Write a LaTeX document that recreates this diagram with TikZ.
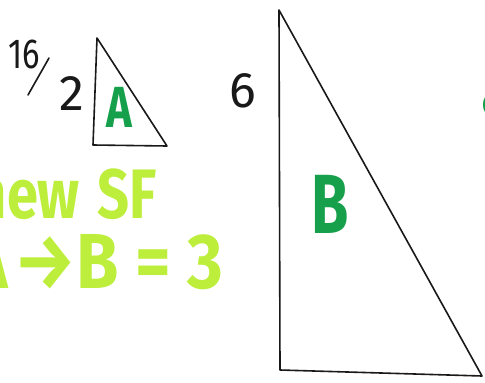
\documentclass[tikz,border=0pt]{standalone}
\usepackage{fontspec}
\setmainfont{Fira Sans}
\usepackage{tikz}
\usetikzlibrary{positioning, calc}
\definecolor{PenGreen}{RGB}{22, 160, 75}
\definecolor{HiLime}{RGB}{190, 238, 60}
\definecolor{PenInk}{RGB}{25, 25, 25}

\tikzset{
  side/.style={draw=PenInk, line width=1.6pt, line cap=round, line join=round},
  ink/.style={text=PenInk, inner sep=0pt},
  label green/.style={text=PenGreen, inner sep=0pt, font=\bfseries},
  lime/.style={text=HiLime, inner sep=0pt, font=\bfseries}
}

\begin{document}
\begin{tikzpicture}[x=1pt, y=-1pt]
  \fill[white] (0,0) rectangle (485,383);
  \useasboundingbox (0,0) rectangle (485,383);

  % small triangle A
  \coordinate (aTop) at (97,38);
  \coordinate (aLeft) at (93,145);
  \coordinate (aRight) at (167,146);
  \draw[side] (aTop) -- (aLeft) -- (aRight) -- cycle;
  \node[label green, font=\fontsize{58}{58}\selectfont\bfseries, anchor=base] (labA) at (119,127) {\scalebox{0.75}[1]{A}};

  % its side, 16/2
  \node[ink, font=\fontsize{42}{42}\selectfont, anchor=base] (sixteen) at (24,68) {\scalebox{0.78}[1]{16}};
  \coordinate (slashTop) at (49,58);
  \coordinate (slashEnd) at (28,95);
  \draw[side] (slashTop) -- (slashEnd);
  \node[ink, font=\fontsize{50}{50}\selectfont, anchor=base] (two) at (72,110) {2};

  % large triangle B
  \coordinate (bTop) at (279,10);
  \coordinate (bLeft) at (280,370);
  \coordinate (bRight) at (482,376);
  \draw[side] (bTop) -- (bLeft) -- (bRight) -- cycle;
  \node[label green, font=\fontsize{84}{84}\selectfont\bfseries, anchor=base] (labB) at (330,233) {\scalebox{0.72}[1]{B}};
  \node[ink, font=\fontsize{50}{50}\selectfont, anchor=base] (six) at (243,107) {6};

  % cut-off label at the right edge
  \node[label green, font=\fontsize{30}{30}\selectfont\bfseries, anchor=base west] (labC) at (482,115) {C};

  % scale factor note
  \node[lime, font=\fontsize{70}{70}\selectfont\bfseries, anchor=base east] (noteSF) at (157,218) {\scalebox{0.8}[1]{new\hspace{22pt}SF}};
  \node[lime, font=\fontsize{78}{78}\selectfont\bfseries, anchor=base east] (noteAB) at (223,288) {\scalebox{0.88}[1]{A\kern8pt→B = 3}};
\end{tikzpicture}
\end{document}
